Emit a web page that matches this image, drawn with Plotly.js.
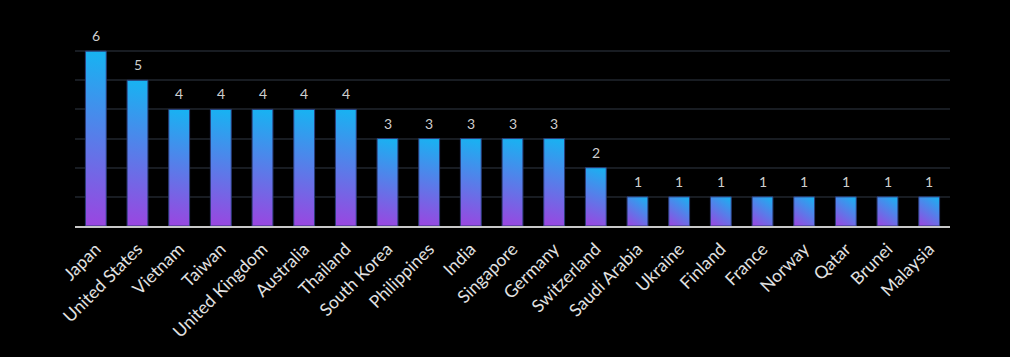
<!DOCTYPE html>
<html><head><meta charset="utf-8">
<script src="https://cdn.plot.ly/plotly-3.0.1.min.js"></script>
<style>html,body{margin:0;padding:0;background:#000;}#chart{width:1010px;height:357px;}</style>
</head><body><div id="chart"></div>
<script>
const countries = ["Japan","United States","Vietnam","Taiwan","United Kingdom","Australia","Thailand","South Korea","Philippines","India","Singapore","Germany","Switzerland","Saudi Arabia","Ukraine","Finland","France","Norway","Qatar","Brunei","Malaysia"];
const counts = [6,5,4,4,4,4,4,3,3,3,3,3,2,1,1,1,1,1,1,1,1];
const FONT = "'Century Gothic', 'URW Gothic', Lato, sans-serif";

const trace = {
  type: "bar",
  x: countries,
  y: counts,
  marker: {color: "#4f8fe8", line: {color: "#2b3c78", width: 1}},
  hoverinfo: "x+y"
};
const annotations = countries.map(function(c, i){
  return {x: c, y: counts[i], xref: "x", yref: "y", text: String(counts[i]),
    showarrow: false, yanchor: "bottom", yshift: 5,
    font: {family: FONT, size: 14, color: "#cfcfcf"}};
});
const layout = {
  width: 1010, height: 357,
  paper_bgcolor: "#000", plot_bgcolor: "#000",
  margin: {l: 75, r: 60, t: 22, b: 131},
  bargap: 0.5,
  showlegend: false,
  font: {family: FONT, color: "#e0e0e0"},
  annotations: annotations,
  xaxis: {
    tickangle: -45, tickfont: {family: FONT, size: 17.5, color: "#e2e2e2"},
    ticklabelstandoff: 4,
    showline: true, linecolor: "#c8c8c8", linewidth: 2, showgrid: false, ticks: "",
    fixedrange: true
  },
  yaxis: {
    range: [0, 7], dtick: 1, showticklabels: false, ticks: "",
    gridcolor: "#181c22", gridwidth: 2, zeroline: false, showline: false,
    fixedrange: true
  }
};
Plotly.newPlot("chart", [trace], layout, {displayModeBar: false, staticPlot: true}).then(function(gd){
  const svg = gd.querySelector("svg.main-svg");
  const ns = "http://www.w3.org/2000/svg";
  const defs = svg.querySelector("defs");
  gd.querySelectorAll(".bars .point path").forEach(function(p, i){
    const b = p.getBBox();
    const g = document.createElementNS(ns, "linearGradient");
    g.setAttribute("id", "barGrad" + i);
    g.setAttribute("gradientUnits", "userSpaceOnUse");
    g.setAttribute("x1", b.x); g.setAttribute("y1", b.y + b.height);
    g.setAttribute("x2", b.x + b.width); g.setAttribute("y2", b.y);
    const s1 = document.createElementNS(ns, "stop");
    s1.setAttribute("offset", "0"); s1.setAttribute("stop-color", "#9b45e0");
    const s2 = document.createElementNS(ns, "stop");
    s2.setAttribute("offset", "1"); s2.setAttribute("stop-color", "#16b4f2");
    g.appendChild(s1); g.appendChild(s2);
    defs.appendChild(g);
    p.style.fill = "url(#barGrad" + i + ")";
  });
});
</script></body></html>
